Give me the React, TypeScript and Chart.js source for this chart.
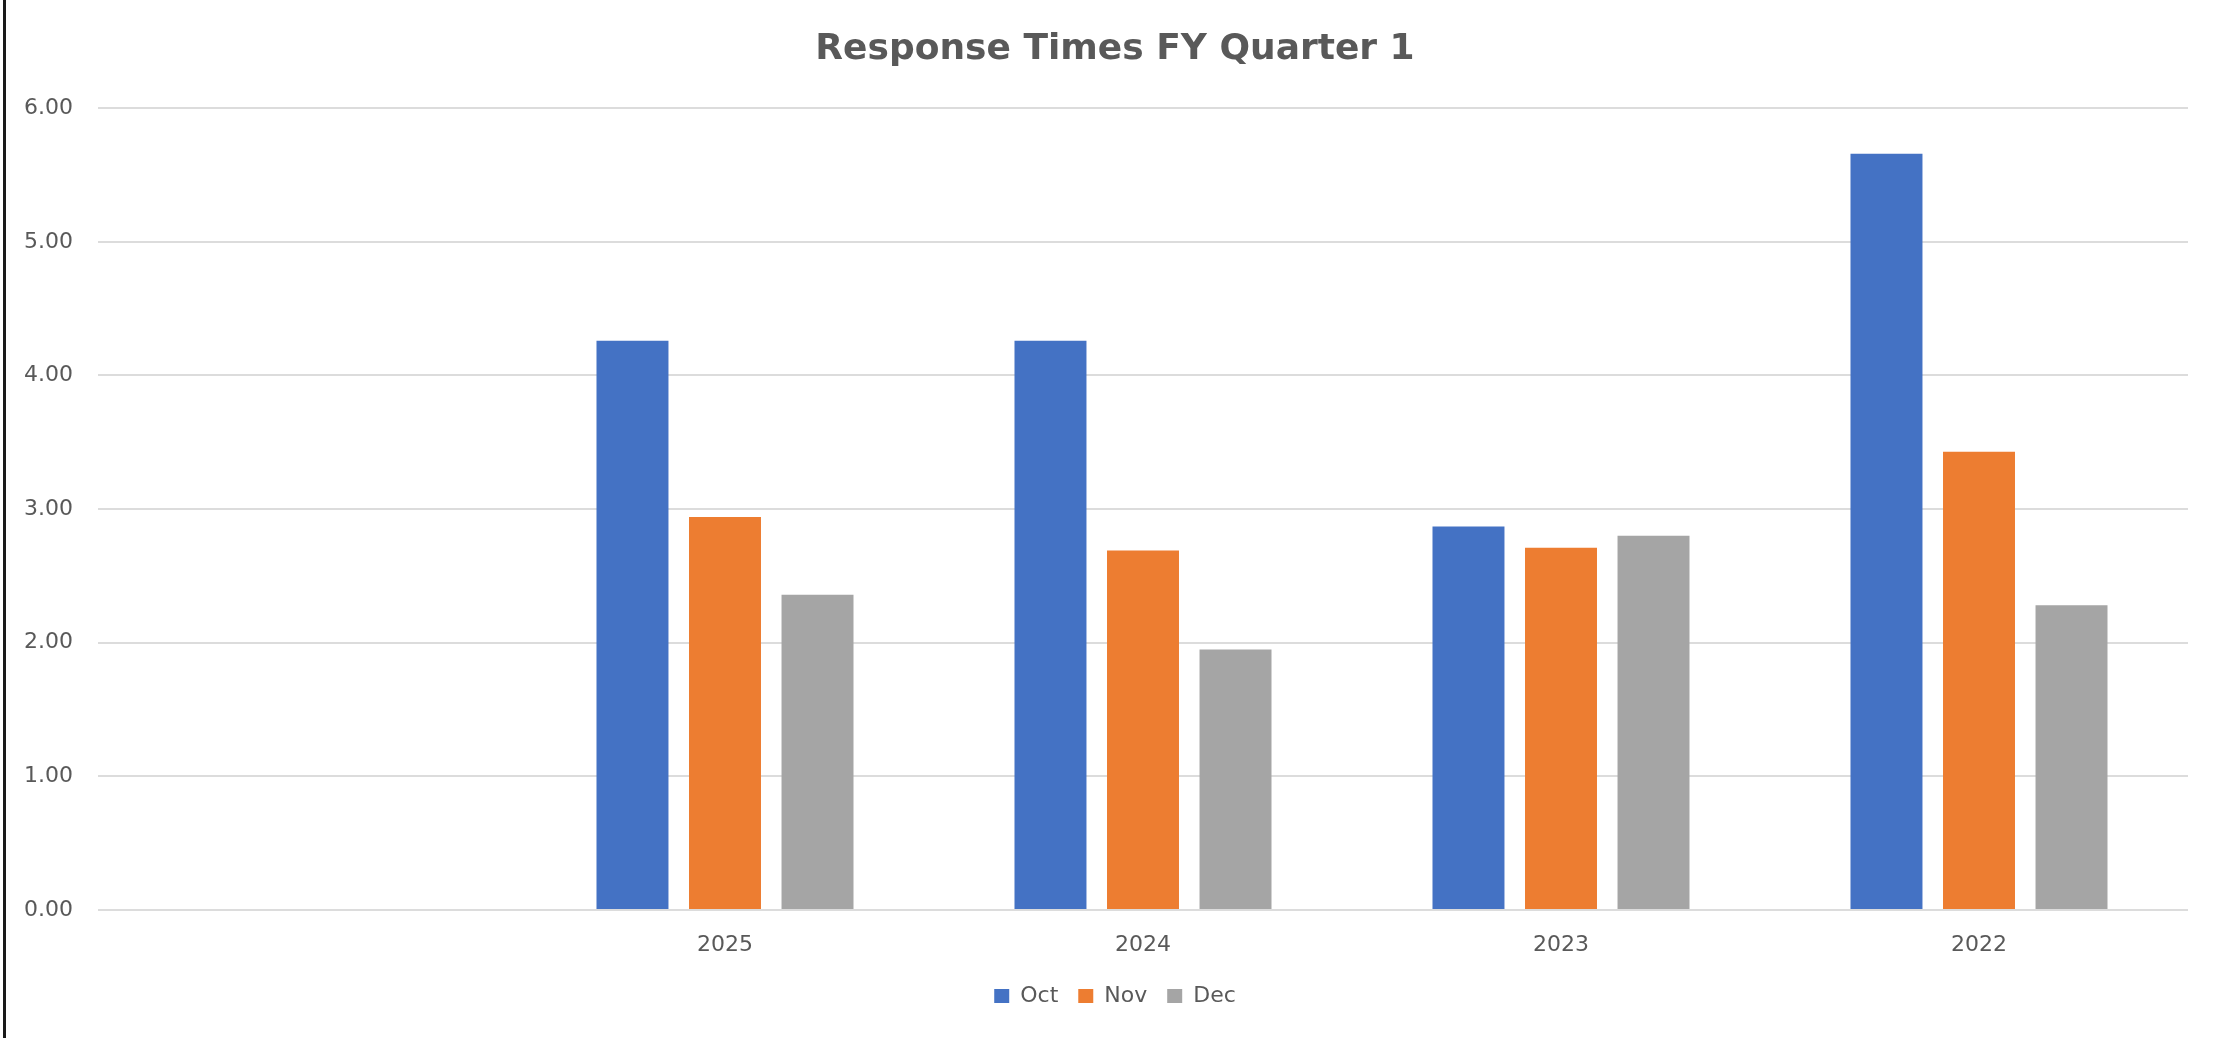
import React, { useEffect, useRef } from "react";
import { Chart, registerables } from "chart.js";

Chart.register(...registerables);

const categories = ["", "2025", "2024", "2023", "2022"];
const seriesNames = ["Oct", "Nov", "Dec"];
const octValues = [null, 4.26, 4.26, 2.87, 5.66];
const novValues = [null, 2.94, 2.69, 2.71, 3.43];
const decValues = [null, 2.36, 1.95, 2.8, 2.28];
const seriesColors = ["#4472C4", "#ED7D31", "#A5A5A5"];
const yTicks = [0, 1, 2, 3, 4, 5, 6];
const titleText = "Response Times FY Quarter 1";

const W = 2216;
const H = 1038;
const FONT = "'DejaVu Sans', sans-serif";
const TEXT = "#595959";

export default function App() {
  const ref = useRef<HTMLCanvasElement | null>(null);

  useEffect(() => {
    if (!ref.current) return;
    const values = [octValues, novValues, decValues];
    const chart = new Chart(ref.current, {
      type: "bar",
      data: {
        labels: categories,
        datasets: seriesNames.map((name, i) => ({
          label: name,
          data: values[i],
          backgroundColor: seriesColors[i],
          borderWidth: 0,
          barPercentage: 0.778,
          categoryPercentage: 0.664,
          yAxisID: "y",
        })),
      },
      options: {
        responsive: false,
        animation: false,
        devicePixelRatio: 1,
        layout: { padding: { left: 14, right: 0, top: 0, bottom: 21 } },
        plugins: {
          title: {
            display: true,
            text: titleText,
            color: TEXT,
            font: { family: FONT, size: 36, weight: "bold" },
            padding: { top: 28, bottom: 37 },
          },
          legend: {
            display: true,
            position: "bottom",
            labels: {
              color: TEXT,
              font: { family: FONT, size: 22 },
              boxWidth: 15,
              boxHeight: 14,
              padding: 20,
            },
          },
          tooltip: { enabled: false },
        },
        scales: {
          x: {
            grid: { display: false, drawTicks: false },
            border: { display: false },
            ticks: {
              color: TEXT,
              font: { family: FONT, size: 22 },
              padding: 22,
              maxRotation: 0,
            },
            afterFit: (s: any) => {
              s.height = 55;
            },
          },
          y: {
            position: "left",
            min: 0,
            max: 6,
            grid: { color: "#dcdcdc", lineWidth: 2, drawTicks: false },
            border: { display: false },
            ticks: {
              color: TEXT,
              font: { family: FONT, size: 22 },
              padding: 25,
              callback: (v: any) => Number(v).toFixed(2),
            },
            afterBuildTicks: (s: any) => {
              s.ticks = yTicks.map((v) => ({ value: v }));
            },
            afterFit: (s: any) => {
              s.width = 84;
            },
          },
          yRight: {
            position: "right",
            display: true,
            min: 0,
            max: 6,
            grid: { display: false, drawTicks: false },
            border: { display: false },
            ticks: { display: false },
            afterFit: (s: any) => {
              s.width = 28;
            },
          },
        },
      },
    });
    return () => chart.destroy();
  }, []);

  return (
    <div
      style={{
        position: "fixed",
        left: 0,
        top: 0,
        width: W,
        height: H,
        background: "#ffffff",
      }}
    >
      <canvas ref={ref} width={W} height={H} style={{ width: W, height: H, display: "block" }} />
      <div
        style={{
          position: "absolute",
          left: 3,
          top: 0,
          width: 3,
          height: H,
          background: "#1a1a1a",
        }}
      />
    </div>
  );
}
